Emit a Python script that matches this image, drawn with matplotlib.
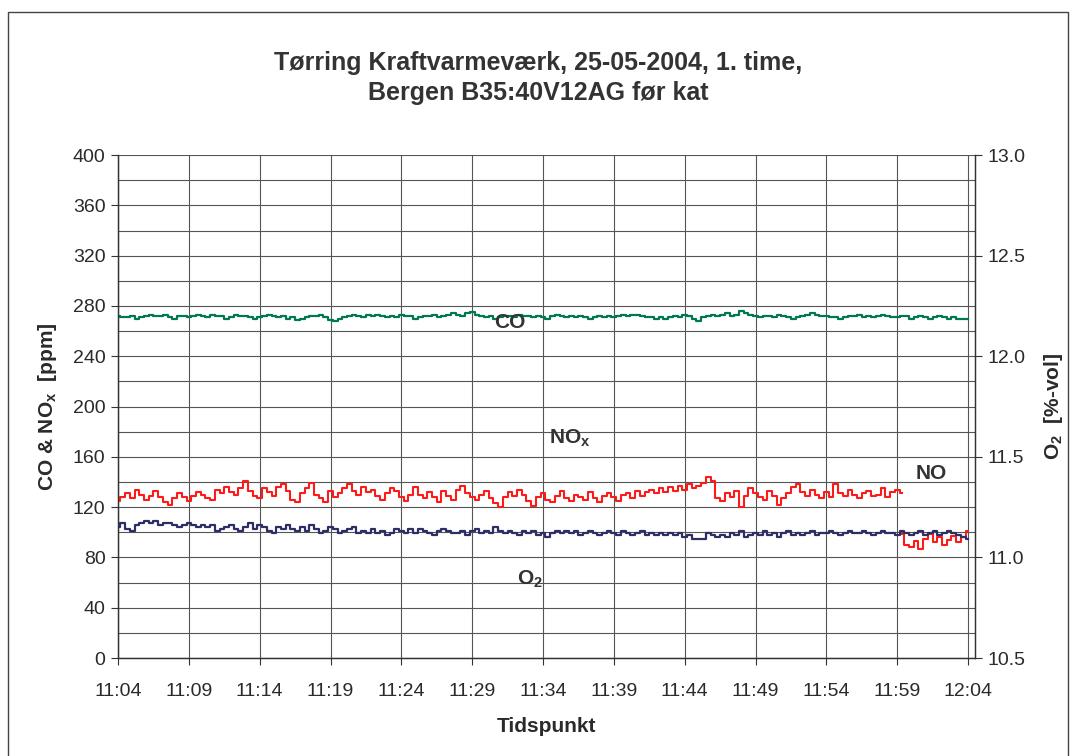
import pandas as pd
import matplotlib
matplotlib.use('Agg')
import matplotlib.pyplot as plt
import matplotlib.dates as mdates
from matplotlib.patches import Rectangle

plt.rcParams['font.family'] = ['Liberation Sans', 'DejaVu Sans']
plt.rcParams['mathtext.fontset'] = 'custom'
plt.rcParams['mathtext.rm'] = 'Liberation Sans:bold'
plt.rcParams['mathtext.bf'] = 'Liberation Sans:bold'

# Samples every 20 s, 11:04:00 - 12:04:00
co = [272, 271, 271, 272, 270, 271, 272, 273, 272, 272, 273, 271, 270, 272, 272,
      271, 272, 273, 272, 271, 273, 272, 272, 270, 271, 273, 272, 272, 271, 270,
      271, 272, 273, 272, 271, 272, 270, 271, 269, 270, 271, 272, 272, 273, 271,
      269, 268, 270, 271, 272, 273, 272, 271, 273, 272, 273, 272, 271, 272, 271,
      273, 272, 272, 270, 271, 272, 272, 273, 271, 272, 273, 274, 273, 272, 274,
      275, 273, 272, 271, 272, 270, 271, 272, 272, 271, 273, 272, 272, 271, 272,
      271, 270, 272, 273, 272, 271, 272, 271, 272, 271, 270, 271, 272, 271, 272,
      271, 272, 273, 272, 273, 273, 272, 271, 271, 270, 271, 270, 271, 272, 271,
      273, 272, 270, 268, 271, 272, 273, 272, 273, 274, 272, 273, 276, 274, 273,
      272, 271, 272, 272, 271, 273, 272, 271, 270, 271, 272, 273, 274, 273, 272,
      272, 271, 271, 270, 271, 272, 272, 273, 271, 272, 271, 272, 273, 272, 271,
      271, 272, 272, 270, 271, 272, 271, 270, 271, 272, 271, 270, 271, 270, 270,
      270]

# NOx until 11:59:20
nox = [125, 128, 131, 127, 134, 130, 126, 129, 133, 128, 124, 122, 127, 131, 128,
       125, 129, 132, 130, 127, 126, 134, 131, 136, 132, 130, 135, 141, 133, 129,
       127, 135, 132, 129, 136, 138, 133, 126, 124, 131, 135, 139, 130, 127, 124,
       133, 128, 131, 135, 138, 133, 130, 136, 132, 134, 129, 126, 131, 135, 133,
       128, 125, 130, 136, 130, 127, 132, 128, 124, 133, 129, 126, 134, 137, 131,
       128, 126, 130, 133, 127, 123, 120, 128, 132, 129, 134, 130, 125, 121, 128,
       131, 126, 124, 129, 133, 127, 125, 130, 128, 126, 132, 127, 124, 129, 131,
       128, 125, 130, 131, 127, 133, 129, 132, 134, 131, 135, 132, 136, 133, 137,
       134, 138, 135, 137, 139, 144, 141, 127, 125, 131, 128, 133, 120, 129, 135,
       131, 128, 126, 133, 129, 122, 127, 131, 136, 138, 132, 129, 134, 130, 127,
       132, 128, 138, 131, 129, 134, 130, 127, 131, 133, 129, 130, 135, 128, 132,
       134, 131]

# NO from 11:59:20 to 12:04:00
no = [99, 90, 88, 93, 87, 95, 99, 92, 96, 90, 94, 97, 92, 96, 101]

# O2 [%-vol], 11:04:00 - 12:04:00
o2 = [11.15, 11.17, 11.14, 11.13, 11.16, 11.17, 11.18, 11.17, 11.18, 11.16, 11.17, 11.17,
      11.16, 11.15, 11.16, 11.17, 11.16, 11.15, 11.16, 11.15, 11.16, 11.13, 11.14, 11.15,
      11.16, 11.14, 11.13, 11.15, 11.17, 11.14, 11.16, 11.15, 11.13, 11.12, 11.15, 11.14,
      11.16, 11.14, 11.13, 11.15, 11.13, 11.16, 11.14, 11.12, 11.13, 11.15, 11.14, 11.12,
      11.13, 11.14, 11.15, 11.12, 11.13, 11.12, 11.14, 11.12, 11.13, 11.11, 11.12, 11.14,
      11.13, 11.12, 11.14, 11.12, 11.14, 11.13, 11.12, 11.11, 11.13, 11.14, 11.13, 11.12,
      11.12, 11.13, 11.11, 11.13, 11.14, 11.12, 11.13, 11.12, 11.15, 11.13, 11.12, 11.13,
      11.12, 11.11, 11.13, 11.12, 11.13, 11.11, 11.12, 11.10, 11.12, 11.13, 11.12, 11.13,
      11.12, 11.13, 11.11, 11.12, 11.13, 11.12, 11.11, 11.12, 11.13, 11.12, 11.11, 11.13,
      11.12, 11.11, 11.12, 11.13, 11.11, 11.12, 11.11, 11.12, 11.11, 11.12, 11.11, 11.12,
      11.10, 11.11, 11.09, 11.09, 11.09, 11.12, 11.11, 11.10, 11.11, 11.10, 11.12, 11.11,
      11.13, 11.10, 11.11, 11.12, 11.11, 11.13, 11.11, 11.12, 11.10, 11.12, 11.13, 11.11,
      11.12, 11.11, 11.12, 11.13, 11.11, 11.12, 11.12, 11.13, 11.12, 11.11, 11.12, 11.13,
      11.12, 11.12, 11.13, 11.12, 11.11, 11.12, 11.13, 11.12, 11.12, 11.11, 11.13, 11.12,
      11.11, 11.12, 11.13, 11.11, 11.12, 11.13, 11.11, 11.12, 11.13, 11.12, 11.11, 11.10,
      11.09]

t_all = pd.date_range('2004-05-25 11:04:00', periods=len(co), freq='20s')
t_nox = t_all[:len(nox)]
t_no = t_all[len(nox) - 1:len(nox) - 1 + len(no)]

tick_times = pd.date_range('2004-05-25 11:04:00', periods=13, freq='5min')

fig = plt.figure(figsize=(10.76, 7.56), dpi=100)
fig.patches.append(Rectangle((0.0074, -0.01), 0.9852, 0.994, transform=fig.transFigure,
                             fill=False, edgecolor='#444444', linewidth=1.0))

ax = fig.add_axes([0.1097, 0.1296, 0.7965, 0.6653])
ax2 = ax.twinx()

txt = '#2a2a2a'
grid_c = '#555555'

ax.plot(t_all, co, color='#007a4d', lw=1.6, drawstyle='steps-mid', zorder=3)
ax.plot(t_nox, nox, color='#ff1a1a', lw=1.5, drawstyle='steps-mid', zorder=3)
ax.plot(t_no, no, color='#ff1a1a', lw=1.5, drawstyle='steps-mid', zorder=4)
ax2.plot(t_all, o2, color='#2e2e66', lw=1.6, drawstyle='steps-mid', zorder=3)

ax.set_ylim(0, 400)
ax.set_yticks(range(0, 401, 40))
ax.set_yticks(range(0, 401, 20), minor=True)
ax2.set_ylim(10.5, 13.0)
ax2.set_yticks([10.5, 11.0, 11.5, 12.0, 12.5, 13.0])
ax2.set_yticklabels(['10.5', '11.0', '11.5', '12.0', '12.5', '13.0'])

ax.set_xlim(pd.Timestamp('2004-05-25 11:04:00'), pd.Timestamp('2004-05-25 12:04:30'))
ax.set_xticks(tick_times)
ax.xaxis.set_major_formatter(mdates.DateFormatter('%H:%M'))

ax.grid(True, which='both', axis='y', color=grid_c, lw=0.8)
ax.grid(True, which='major', axis='x', color=grid_c, lw=0.8)
ax.set_axisbelow(True)

for a in (ax, ax2):
    for s in a.spines.values():
        s.set_color('#333333')
        s.set_linewidth(0.9)
    a.tick_params(which='major', length=5, width=0.8, color='#333333',
                  labelsize=14, labelcolor=txt, pad=4)
ax.tick_params(axis='x', pad=13)
ax.tick_params(which='minor', length=0)
ax.spines['top'].set_visible(False)
ax2.spines['top'].set_visible(False)

ax.set_xlabel('Tidspunkt', fontsize=15, fontweight='bold', color=txt, labelpad=12)
ax.set_ylabel(r'CO & NO$_\mathregular{x}$  [ppm]', fontsize=15, fontweight='bold',
              color=txt, labelpad=10)
ax2.set_ylabel(r'O$_\mathregular{2}$  [%-vol]', fontsize=15, fontweight='bold',
               color=txt, labelpad=12, rotation=90)

fig.text(0.5, 0.897, 'Tørring Kraftvarmeværk, 25-05-2004, 1. time,\nBergen B35:40V12AG før kat',
         ha='center', va='center', fontsize=18, fontweight='bold', color='#333333',
         linespacing=1.3)

lab = dict(fontsize=15, fontweight='bold', color='#333333', ha='center', va='center', zorder=5)
ax.text(pd.Timestamp('2004-05-25 11:31:40'), 267, 'CO', **lab)
ax.text(pd.Timestamp('2004-05-25 11:35:55'), 175, r'NO$_\mathregular{x}$', **lab)
ax.text(pd.Timestamp('2004-05-25 12:01:25'), 147, 'NO', **lab)
ax.text(pd.Timestamp('2004-05-25 11:33:05'), 63, r'O$_\mathregular{2}$', **lab)

fig.savefig('out.png', dpi=100)
